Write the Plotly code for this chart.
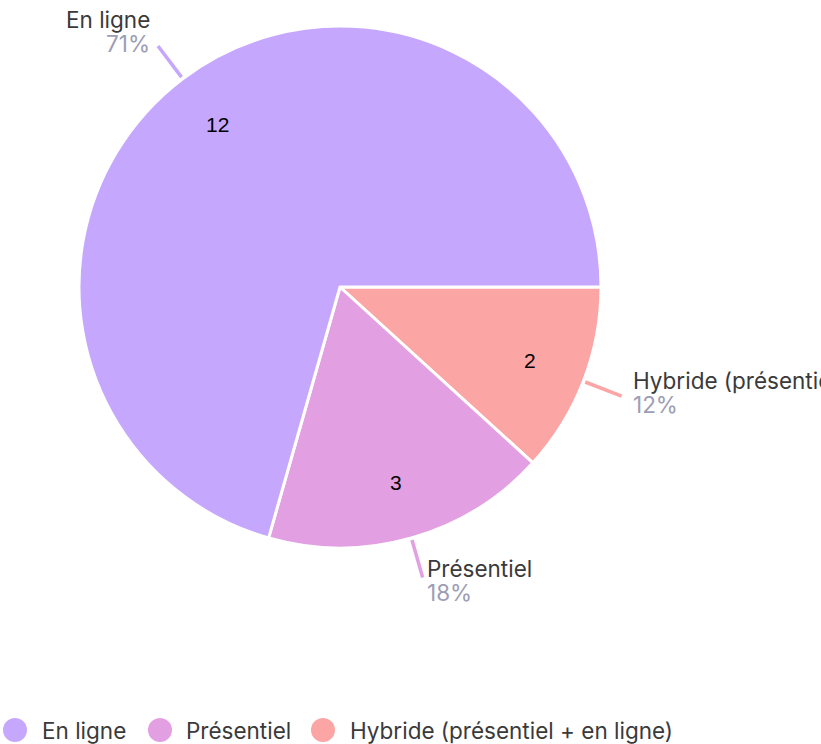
import math
import plotly.graph_objects as go

categories = ["En ligne", "Présentiel", "Hybride (présentiel + en ligne)"]
values = [12, 3, 2]
colors = ["#c5a7fe", "#e2a0e2", "#fca5a5"]

W, H = 821, 744
CX, CY, R = 340, 287, 261  # pie centre/radius in pixels
FONT = "Inter"
FS = 22.5
LABEL_COLOR = "#3a3a3a"
PCT_COLOR = "#9d9db5"


def px(x):
    return x / W


def py(y):
    return 1 - y / H


total = sum(values)
fig = go.Figure()
# slices drawn clockwise from 3 o'clock in reverse order == counter-clockwise in data order
fig.add_trace(go.Pie(
    labels=categories[::-1],
    values=values[::-1],
    sort=False,
    direction="clockwise",
    rotation=90,
    marker=dict(colors=colors[::-1], line=dict(color="white", width=3)),
    textinfo="none",
    domain=dict(x=[px(CX - R), px(CX + R)], y=[py(CY + R), py(CY - R)]),
    showlegend=False,
    hoverinfo="label+value+percent",
))

shapes = []
annotations = []
cum = 0
for cat, v, col in zip(categories, values, colors):
    mid = 2 * math.pi * (cum + v / 2) / total
    cum += v
    c, s = math.cos(mid), math.sin(mid)
    # value inside the slice
    annotations.append(dict(
        xref="paper", yref="paper",
        x=px(CX + 0.78 * R * c), y=py(CY - 0.78 * R * s),
        xanchor="center", yanchor="middle", text=str(v), showarrow=False,
        font=dict(family="Liberation Sans", size=21, color="black"),
    ))
    # leader line
    x1, y1 = CX + (R + 2) * c, CY - (R + 2) * s
    x2, y2 = CX + (R + 41) * c, CY - (R + 41) * s
    shapes.append(dict(type="line", xref="paper", yref="paper",
                       x0=px(x1), y0=py(y1), x1=px(x2), y1=py(y2),
                       line=dict(color=col, width=3.5)))
    # outside label + percent
    right = c >= 0
    tx, ty = CX + (R + 51) * c, CY - (R + 51) * s - 7
    pct = round(100 * v / total)
    for txt, dy, colr in ((cat, -12, LABEL_COLOR), (f"{pct}%", 12, PCT_COLOR)):
        annotations.append(dict(
            xref="paper", yref="paper", x=px(tx), y=py(ty + dy),
            xanchor="left" if right else "right", yanchor="middle",
            text=txt, showarrow=False,
            font=dict(family=FONT, size=FS, color=colr),
        ))

# legend (custom, circles)
leg_circle_x = [15, 160, 323]
leg_text_x = [40, 184, 348]
LEG_Y = 730
for cat, col, cx_, tx_ in zip(categories, colors, leg_circle_x, leg_text_x):
    shapes.append(dict(type="circle", xref="paper", yref="paper",
                       x0=px(cx_ - 12), x1=px(cx_ + 12),
                       y0=py(LEG_Y + 12), y1=py(LEG_Y - 12),
                       fillcolor=col, line=dict(width=0)))
    annotations.append(dict(xref="paper", yref="paper", x=px(tx_), y=py(LEG_Y),
                            xanchor="left", yanchor="middle", text=cat,
                            showarrow=False,
                            font=dict(family=FONT, size=FS, color=LABEL_COLOR)))

fig.update_layout(
    width=W, height=H,
    margin=dict(l=0, r=0, t=0, b=0),
    paper_bgcolor="white",
    plot_bgcolor="white",
    shapes=shapes,
    annotations=annotations,
    showlegend=False,
)
fig.write_html("out.html", config={"displayModeBar": False},
               post_script="document.body.style.margin='0';document.body.style.overflow='hidden';")
